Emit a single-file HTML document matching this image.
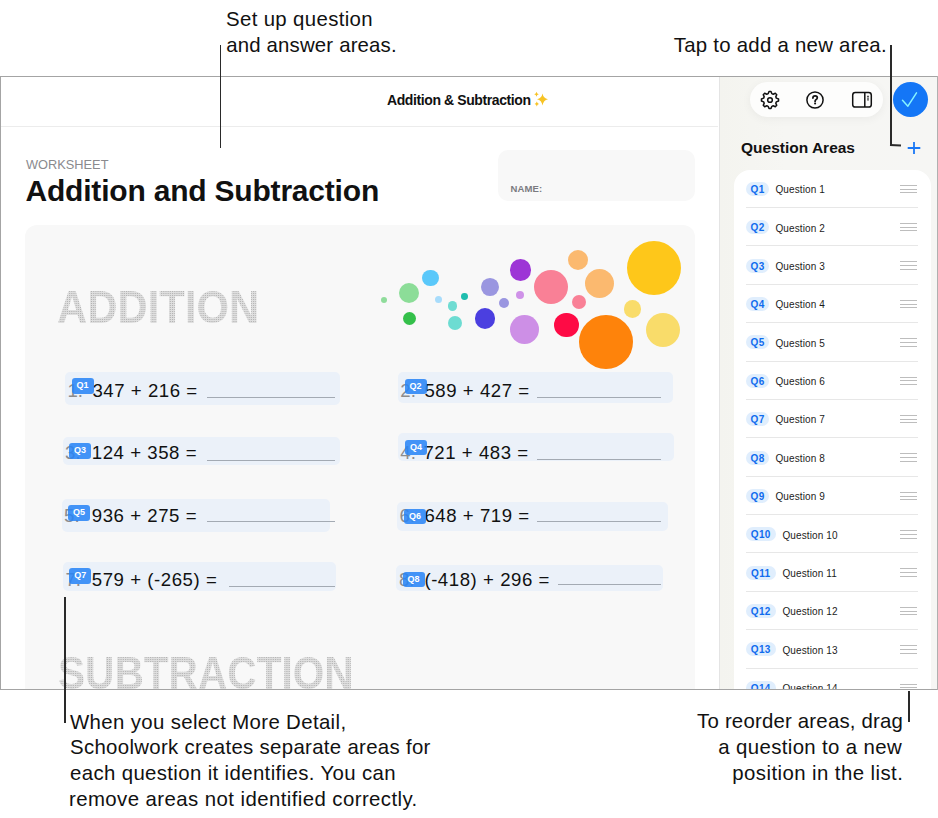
<!DOCTYPE html>
<html><head><meta charset="utf-8">
<style>
*{margin:0;padding:0;box-sizing:border-box}
html,body{width:938px;height:818px;overflow:hidden;background:#fff}
body{position:relative;font-family:"Liberation Sans",Arial,sans-serif;color:#000}
.callout{position:absolute;font-size:20.4px;line-height:26px;color:#111;white-space:nowrap;letter-spacing:0.4px}
.vl{position:absolute;background:#2a2a2a;width:1.8px;z-index:5}
#frame{position:absolute;left:0;top:76px;width:938px;height:614px;overflow:hidden;background:#fff}
.bd{position:absolute;z-index:4}
#hdrsep{position:absolute;left:0;top:50px;width:718px;height:1px;background:#ececec}
#title{position:absolute;left:387px;top:16px;font-size:14px;font-weight:700;white-space:nowrap;color:#111;letter-spacing:-0.4px}
#side{position:absolute;left:719px;top:0;width:219px;height:614px;background:linear-gradient(90deg,#f4f4ef 0%,#f6f6f3 30%,#f6f6f4 100%);border-left:1px solid #e4e4e4}
#pill{position:absolute;left:30px;top:6px;width:133px;height:35px;border-radius:18px;background:#fdfdfc;box-shadow:0 2px 10px rgba(0,0,0,0.05)}
#done{position:absolute;left:172.7px;top:5.9px;width:35px;height:35px;border-radius:50%;background:#1476f6}
#qa{position:absolute;left:21px;top:63px;font-size:15.5px;font-weight:700;color:#111;white-space:nowrap}
#list{position:absolute;left:13.5px;top:93.5px;width:197.5px;height:600px;background:#fff;border-radius:16px}
.badge{position:absolute;height:14px;border-radius:8px;background:#e0eefd;color:#0f6bee;font-size:10px;font-weight:700;line-height:15.6px;text-align:center;letter-spacing:0.3px;text-indent:0.3px}
.qt{position:absolute;font-size:10px;line-height:14.4px;color:#1c1c1c;white-space:nowrap;letter-spacing:0.12px}
.hd{position:absolute;width:17px;height:1px;background:#bdbdbd}
.sep{position:absolute;height:1px;background:#e7e7e7}
#ws{position:absolute;left:26px;font-size:12.8px;color:#8a8a8e;white-space:nowrap}
#h1{position:absolute;left:25.5px;font-size:30px;font-weight:700;color:#111;white-space:nowrap;letter-spacing:-0.2px}
#name{position:absolute;left:498.4px;width:196.6px;height:50.3px;border-radius:10px;background:#f8f8f8}
#name span{position:absolute;left:12px;font-size:9.5px;font-weight:700;color:#7b7b80;letter-spacing:0.15px}
#card{position:absolute;left:25.4px;width:669.6px;height:600px;border-radius:12px;background:#f8f8f8}
.dot{position:absolute;font-weight:700;white-space:nowrap;color:transparent;line-height:1;
 background:repeating-conic-gradient(#b2b2b2 0 25%,#dfdfdf 0 100%) 0 0/2px 2px;-webkit-background-clip:text;background-clip:text}
.qa{position:absolute;background:#ebf1f9;border-radius:5px}
.qn{position:absolute;font-size:18.6px;color:#8c8c8c;white-space:nowrap;line-height:1}
.qx{position:absolute;font-size:18.6px;color:#111;white-space:nowrap;line-height:1;letter-spacing:0.55px}
.qb{position:absolute;width:22px;height:15.5px;border-radius:3px;background:rgba(38,132,247,0.86);color:#fff;font-size:9px;font-weight:700;text-align:center;line-height:15.5px}
.ans{position:absolute;height:1px;background:#a3aab3}
.bub{position:absolute;border-radius:50%}
</style></head>
<body>
<div class="callout" style="left:226.0px;top:5.5px;letter-spacing:0.352px">Set up question</div>
<div class="callout" style="left:226.2px;top:31.6px;letter-spacing:0.169px">and answer areas.</div>
<div class="callout" style="left:673.8px;top:31.8px;letter-spacing:0.253px">Tap to add a new area.</div>
<div id="frame">
<div id="hdrsep"></div>
<div id="title" style="top:15.5px">Addition &amp; Subtraction</div>
<svg style="position:absolute;left:532px;top:15.0px" width="18" height="18" viewBox="0 0 18 18">
<path d="M10.5 2.5 Q11.3 7.2 16 8.3 Q11.3 9.4 10.5 14.5 Q9.7 9.4 5 8.3 Q9.7 7.2 10.5 2.5Z" fill="#f7c325"/>
<path d="M4.5 0.8 Q4.9 2.9 6.8 3.3 Q4.9 3.7 4.5 5.8 Q4.1 3.7 2.2 3.3 Q4.1 2.9 4.5 0.8Z" fill="#f7c325"/>
<path d="M4.8 10.5 Q5.2 12.5 7 12.9 Q5.2 13.3 4.8 15.4 Q4.4 13.3 2.6 12.9 Q4.4 12.5 4.8 10.5Z" fill="#f7c325"/>
</svg>
<div id="ws" style="top:80.6px">WORKSHEET</div>
<div id="h1" style="top:97.8px">Addition and Subtraction</div>
<div id="name" style="top:74.3px"><span style="top:33.1px">NAME:</span></div>
<div id="card" style="top:148.9px"></div>
<div class="dot" style="left:57px;top:208.9px;font-size:45.5px;letter-spacing:0px;transform:scaleX(0.92);transform-origin:0 0">ADDITION</div>
<div class="dot" style="left:58px;top:575.0px;font-size:45.5px;letter-spacing:0px;transform:scaleX(0.893);transform-origin:0 0">SUBTRACTION</div>
<div class="bub" style="left:381.1px;top:220.7px;width:6.0px;height:6.0px;background:#8fdc9b"></div>
<div class="bub" style="left:398.7px;top:206.7px;width:20.0px;height:20.0px;background:#8cdd98"></div>
<div class="bub" style="left:421.8px;top:193.5px;width:16.8px;height:16.8px;background:#5ac8fa"></div>
<div class="bub" style="left:402.9px;top:235.5px;width:13.4px;height:13.4px;background:#34c04a"></div>
<div class="bub" style="left:434.9px;top:219.5px;width:7.2px;height:7.2px;background:#a8dcfb"></div>
<div class="bub" style="left:447.9px;top:225.4px;width:9.4px;height:9.4px;background:#6fdcd2"></div>
<div class="bub" style="left:461.2px;top:216.8px;width:6.8px;height:6.8px;background:#1fbdae"></div>
<div class="bub" style="left:447.9px;top:239.5px;width:14.2px;height:14.2px;background:#6ddcd2"></div>
<div class="bub" style="left:481.2px;top:201.8px;width:17.8px;height:17.8px;background:#9a96e0"></div>
<div class="bub" style="left:498.6px;top:221.9px;width:10.6px;height:10.6px;background:#9a96e0"></div>
<div class="bub" style="left:475.1px;top:232.4px;width:20.2px;height:20.2px;background:#4b3fe0"></div>
<div class="bub" style="left:509.6px;top:183.0px;width:21.6px;height:21.6px;background:#9d35d6"></div>
<div class="bub" style="left:515.6px;top:214.8px;width:8.4px;height:8.4px;background:#cf92e8"></div>
<div class="bub" style="left:509.9px;top:239.3px;width:28.8px;height:28.8px;background:#cd8fe6"></div>
<div class="bub" style="left:533.6px;top:193.6px;width:34.8px;height:34.8px;background:#f98096"></div>
<div class="bub" style="left:568.3px;top:173.8px;width:20.0px;height:20.0px;background:#fbb96f"></div>
<div class="bub" style="left:584.8px;top:192.6px;width:29.4px;height:29.4px;background:#fbb96f"></div>
<div class="bub" style="left:571.8px;top:218.9px;width:14.2px;height:14.2px;background:#f98096"></div>
<div class="bub" style="left:554.0px;top:236.6px;width:24.6px;height:24.6px;background:#fe0b45"></div>
<div class="bub" style="left:579.2px;top:239.4px;width:53.8px;height:53.8px;background:#fe830b"></div>
<div class="bub" style="left:627.0px;top:164.6px;width:54.0px;height:54.0px;background:#fec71a"></div>
<div class="bub" style="left:623.6px;top:224.1px;width:17.6px;height:17.6px;background:#f9dc6a"></div>
<div class="bub" style="left:645.6px;top:237.0px;width:34.0px;height:34.0px;background:#f9dc6a"></div>
<div class="qa" style="left:64.9px;top:296.2px;width:274.8px;height:32.4px"></div>
<div class="qn" style="left:67.5px;top:306.4px">1.</div>
<div class="qx" style="left:92.4px;top:306.4px">347 + 216 =</div>
<div class="ans" style="left:207.2px;top:321px;width:128.0px"></div>
<div class="qb" style="left:71.5px;top:302.3px">Q1</div>
<div class="qa" style="left:397.7px;top:296.0px;width:275.8px;height:30.7px"></div>
<div class="qn" style="left:400.3px;top:306.4px">2.</div>
<div class="qx" style="left:424.4px;top:306.4px">589 + 427 =</div>
<div class="ans" style="left:537.0px;top:321px;width:123.5px"></div>
<div class="qb" style="left:404.6px;top:302.8px">Q2</div>
<div class="qa" style="left:62.5px;top:360.8px;width:277.8px;height:28.0px"></div>
<div class="qn" style="left:65.1px;top:368.0px">3.</div>
<div class="qx" style="left:91.8px;top:368.0px">124 + 358 =</div>
<div class="ans" style="left:207.2px;top:384px;width:128.0px"></div>
<div class="qb" style="left:69.0px;top:367.3px">Q3</div>
<div class="qa" style="left:397.7px;top:357.4px;width:276.5px;height:28.0px"></div>
<div class="qn" style="left:400.3px;top:368.0px">4.</div>
<div class="qx" style="left:423.4px;top:368.0px">721 + 483 =</div>
<div class="ans" style="left:537.0px;top:383px;width:123.5px"></div>
<div class="qb" style="left:405.0px;top:363.5px">Q4</div>
<div class="qa" style="left:61.5px;top:422.9px;width:268.5px;height:33.5px"></div>
<div class="qn" style="left:64.1px;top:431.0px">5.</div>
<div class="qx" style="left:91.8px;top:431.0px">936 + 275 =</div>
<div class="ans" style="left:207.2px;top:445px;width:128.0px"></div>
<div class="qb" style="left:68.0px;top:429.0px">Q5</div>
<div class="qa" style="left:397.0px;top:425.6px;width:271.4px;height:29.0px"></div>
<div class="qn" style="left:399.6px;top:431.0px">6.</div>
<div class="qx" style="left:424.4px;top:431.0px">648 + 719 =</div>
<div class="ans" style="left:537.0px;top:445px;width:123.5px"></div>
<div class="qb" style="left:404.0px;top:432.5px">Q6</div>
<div class="qa" style="left:62.9px;top:485.6px;width:273.3px;height:29.3px"></div>
<div class="qn" style="left:65.5px;top:494.6px">7.</div>
<div class="qx" style="left:91.8px;top:494.6px">579 + (-265) =</div>
<div class="ans" style="left:229.4px;top:510px;width:105.8px"></div>
<div class="qb" style="left:69.3px;top:492.0px">Q7</div>
<div class="qa" style="left:396.4px;top:488.8px;width:266.9px;height:26.2px"></div>
<div class="qn" style="left:399.0px;top:494.6px">8.</div>
<div class="qx" style="left:424.4px;top:494.6px">(-418) + 296 =</div>
<div class="ans" style="left:558.0px;top:508px;width:102.5px"></div>
<div class="qb" style="left:402.5px;top:495.6px">Q8</div>
<div id="side">
<div id="pill"></div>
<svg style="position:absolute;left:38.8px;top:12.6px" width="22" height="22" viewBox="-11 -11 22 22">
<path d="M6.33 -1.86 L8.54 -0.99 L8.54 0.99 L6.33 1.86 L5.79 3.17 L6.74 5.34 L5.34 6.74 L3.17 5.79 L1.86 6.33 L0.99 8.54 L-0.99 8.54 L-1.86 6.33 L-3.17 5.79 L-5.34 6.74 L-6.74 5.34 L-5.79 3.17 L-6.33 1.86 L-8.54 0.99 L-8.54 -0.99 L-6.33 -1.86 L-5.79 -3.17 L-6.74 -5.34 L-5.34 -6.74 L-3.17 -5.79 L-1.86 -6.33 L-0.99 -8.54 L0.99 -8.54 L1.86 -6.33 L3.17 -5.79 L5.34 -6.74 L6.74 -5.34 L5.79 -3.17 Z" fill="none" stroke="#111" stroke-width="1.5" stroke-linejoin="round"/>
<circle cx="0" cy="0" r="2.35" fill="none" stroke="#111" stroke-width="1.5"/>
</svg>
<svg style="position:absolute;left:85.0px;top:13.6px" width="20" height="20" viewBox="-10 -10 20 20">
<circle cx="0" cy="0" r="8.1" fill="none" stroke="#111" stroke-width="1.5"/>
<path d="M-2.1 -1.9 Q-2.1 -4.2 0.1 -4.2 Q2.3 -4.2 2.3 -2.2 Q2.3 -0.9 0.9 -0.2 Q0.1 0.3 0.1 1.4" fill="none" stroke="#111" stroke-width="1.75" stroke-linecap="round"/>
<circle cx="0.1" cy="3.5" r="1.05" fill="#111"/>
</svg>
<svg style="position:absolute;left:131.0px;top:14.6px" width="22" height="18" viewBox="0 0 22 18">
<rect x="1.7" y="1.6" width="18.6" height="14.4" rx="2.6" fill="none" stroke="#111" stroke-width="1.5"/>
<line x1="13.8" y1="1.6" x2="13.8" y2="16" stroke="#111" stroke-width="1.5"/>
<line x1="16.1" y1="5.3" x2="17.9" y2="5.3" stroke="#111" stroke-width="1"/>
<line x1="16.1" y1="7.1" x2="17.9" y2="7.1" stroke="#111" stroke-width="1"/>
<line x1="16.1" y1="8.9" x2="17.9" y2="8.9" stroke="#111" stroke-width="1"/>
</svg>
<div id="done"></div>
<svg style="position:absolute;left:180.3px;top:13.1px" width="20" height="20" viewBox="0 0 20 20">
<path d="M2.5 11.2 L7.9 17.2 L16.5 3.8" fill="none" stroke="#86f4ff" stroke-width="1.5" stroke-linecap="round" stroke-linejoin="round"/>
</svg>
<div id="qa" style="top:62.8px">Question Areas</div>
<svg style="position:absolute;left:186.2px;top:63.6px" width="16" height="16" viewBox="0 0 16 16">
<path d="M8 1.9 V14.1 M1.7 8 H14.3" stroke="#1a78f5" stroke-width="1.8" stroke-linecap="butt"/>
</svg>
<div id="list"></div>
<div class="badge" style="left:25.5px;top:105.8px;width:23.8px">Q1</div>
<div class="qt" style="left:55.4px;top:107.1px">Question 1</div>
<div class="hd" style="left:180.0px;top:109px"></div>
<div class="hd" style="left:180.0px;top:113px"></div>
<div class="hd" style="left:180.0px;top:116px"></div>
<div class="sep" style="left:25.7px;top:131px;width:172.3px"></div>
<div class="badge" style="left:25.5px;top:144.2px;width:23.8px">Q2</div>
<div class="qt" style="left:55.4px;top:145.5px">Question 2</div>
<div class="hd" style="left:180.0px;top:147px"></div>
<div class="hd" style="left:180.0px;top:151px"></div>
<div class="hd" style="left:180.0px;top:154px"></div>
<div class="sep" style="left:25.7px;top:169px;width:172.3px"></div>
<div class="badge" style="left:25.5px;top:182.6px;width:23.8px">Q3</div>
<div class="qt" style="left:55.4px;top:183.9px">Question 3</div>
<div class="hd" style="left:180.0px;top:185px"></div>
<div class="hd" style="left:180.0px;top:189px"></div>
<div class="hd" style="left:180.0px;top:193px"></div>
<div class="sep" style="left:25.7px;top:208px;width:172.3px"></div>
<div class="badge" style="left:25.5px;top:220.9px;width:23.8px">Q4</div>
<div class="qt" style="left:55.4px;top:222.2px">Question 4</div>
<div class="hd" style="left:180.0px;top:224px"></div>
<div class="hd" style="left:180.0px;top:228px"></div>
<div class="hd" style="left:180.0px;top:231px"></div>
<div class="sep" style="left:25.7px;top:246px;width:172.3px"></div>
<div class="badge" style="left:25.5px;top:259.3px;width:23.8px">Q5</div>
<div class="qt" style="left:55.4px;top:260.6px">Question 5</div>
<div class="hd" style="left:180.0px;top:262px"></div>
<div class="hd" style="left:180.0px;top:266px"></div>
<div class="hd" style="left:180.0px;top:270px"></div>
<div class="sep" style="left:25.7px;top:285px;width:172.3px"></div>
<div class="badge" style="left:25.5px;top:297.7px;width:23.8px">Q6</div>
<div class="qt" style="left:55.4px;top:299.0px">Question 6</div>
<div class="hd" style="left:180.0px;top:301px"></div>
<div class="hd" style="left:180.0px;top:304px"></div>
<div class="hd" style="left:180.0px;top:308px"></div>
<div class="sep" style="left:25.7px;top:323px;width:172.3px"></div>
<div class="badge" style="left:25.5px;top:336.1px;width:23.8px">Q7</div>
<div class="qt" style="left:55.4px;top:337.4px">Question 7</div>
<div class="hd" style="left:180.0px;top:339px"></div>
<div class="hd" style="left:180.0px;top:343px"></div>
<div class="hd" style="left:180.0px;top:346px"></div>
<div class="sep" style="left:25.7px;top:361px;width:172.3px"></div>
<div class="badge" style="left:25.5px;top:374.5px;width:23.8px">Q8</div>
<div class="qt" style="left:55.4px;top:375.8px">Question 8</div>
<div class="hd" style="left:180.0px;top:377px"></div>
<div class="hd" style="left:180.0px;top:381px"></div>
<div class="hd" style="left:180.0px;top:385px"></div>
<div class="sep" style="left:25.7px;top:400px;width:172.3px"></div>
<div class="badge" style="left:25.5px;top:412.8px;width:23.8px">Q9</div>
<div class="qt" style="left:55.4px;top:414.1px">Question 9</div>
<div class="hd" style="left:180.0px;top:416px"></div>
<div class="hd" style="left:180.0px;top:420px"></div>
<div class="hd" style="left:180.0px;top:423px"></div>
<div class="sep" style="left:25.7px;top:438px;width:172.3px"></div>
<div class="badge" style="left:25.5px;top:451.2px;width:30.2px">Q10</div>
<div class="qt" style="left:62.4px;top:452.5px">Question 10</div>
<div class="hd" style="left:180.0px;top:454px"></div>
<div class="hd" style="left:180.0px;top:458px"></div>
<div class="hd" style="left:180.0px;top:462px"></div>
<div class="sep" style="left:25.7px;top:476px;width:172.3px"></div>
<div class="badge" style="left:25.5px;top:489.6px;width:30.2px">Q11</div>
<div class="qt" style="left:62.4px;top:490.9px">Question 11</div>
<div class="hd" style="left:180.0px;top:492px"></div>
<div class="hd" style="left:180.0px;top:496px"></div>
<div class="hd" style="left:180.0px;top:500px"></div>
<div class="sep" style="left:25.7px;top:515px;width:172.3px"></div>
<div class="badge" style="left:25.5px;top:528.0px;width:30.2px">Q12</div>
<div class="qt" style="left:62.4px;top:529.3px">Question 12</div>
<div class="hd" style="left:180.0px;top:531px"></div>
<div class="hd" style="left:180.0px;top:535px"></div>
<div class="hd" style="left:180.0px;top:538px"></div>
<div class="sep" style="left:25.7px;top:553px;width:172.3px"></div>
<div class="badge" style="left:25.5px;top:566.4px;width:30.2px">Q13</div>
<div class="qt" style="left:62.4px;top:567.7px">Question 13</div>
<div class="hd" style="left:180.0px;top:569px"></div>
<div class="hd" style="left:180.0px;top:573px"></div>
<div class="hd" style="left:180.0px;top:577px"></div>
<div class="sep" style="left:25.7px;top:592px;width:172.3px"></div>
<div class="badge" style="left:25.5px;top:604.7px;width:30.2px">Q14</div>
<div class="qt" style="left:62.4px;top:606.0px">Question 14</div>
<div class="hd" style="left:180.0px;top:608px"></div>
<div class="hd" style="left:180.0px;top:611px"></div>
<div class="hd" style="left:180.0px;top:615px"></div>
</div>
</div>
<div class="bd" style="left:0;top:76px;width:938px;height:1px;background:#a4a4a4"></div>
<div class="bd" style="left:0;top:689px;width:938px;height:1px;background:#a4a4a4"></div>
<div class="bd" style="left:0;top:76px;width:1px;height:614px;background:#a4a4a4"></div>
<div class="bd" style="left:937px;top:76px;width:1px;height:614px;background:#b0b0b0"></div>
<div class="vl" style="left:219.5px;top:45.3px;height:103px"></div>
<div class="vl" style="left:890.1px;top:45px;height:101px"></div>
<div class="vl" style="left:890.1px;top:144.4px;height:1.9px;width:11px;transform:rotate(3deg);transform-origin:0 50%"></div>
<div class="vl" style="left:64.15px;top:596.8px;height:125.8px"></div>
<div class="vl" style="left:907.8px;top:691px;height:30.6px"></div>
<div class="callout" style="left:70.0px;top:708.5px;letter-spacing:0.361px">When you select More Detail,</div>
<div class="callout" style="left:70.0px;top:734.4px;letter-spacing:0.314px">Schoolwork creates separate areas for</div>
<div class="callout" style="left:70.0px;top:760.4px;letter-spacing:0.360px">each question it identifies. You can</div>
<div class="callout" style="left:69.0px;top:786.4px;letter-spacing:0.417px">remove areas not identified correctly.</div>
<div class="callout" style="left:697.1px;top:708.1px;letter-spacing:0.195px">To reorder areas, drag</div>
<div class="callout" style="left:718.3px;top:733.9px;letter-spacing:0.366px">a question to a new</div>
<div class="callout" style="left:732.3px;top:759.7px;letter-spacing:0.424px">position in the list.</div>
</body></html>
